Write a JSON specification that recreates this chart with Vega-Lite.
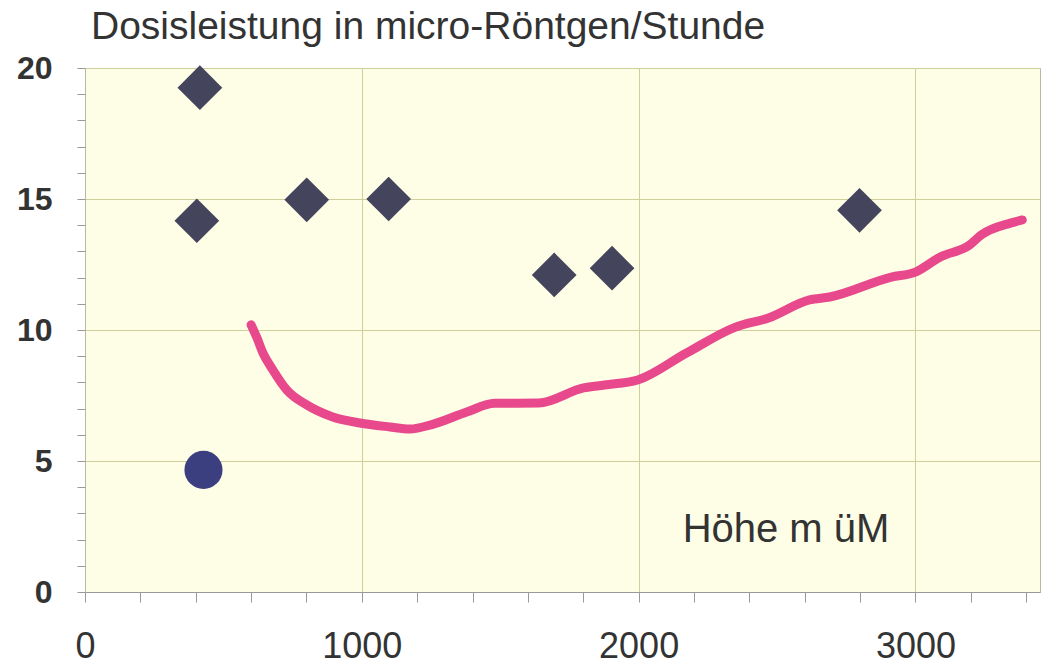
{
  "$schema": "https://vega.github.io/schema/vega-lite/v6.json",
  "width": 955,
  "height": 524,
  "autosize": {"type": "none"},
  "padding": {"left": 85, "top": 68, "right": 3, "bottom": 74},
  "background": "white",
  "config": {
    "view": {"fill": "#fefee6", "stroke": "#b8b8a8", "strokeWidth": 1},
    "font": "Liberation Sans"
  },
  "title": {
    "text": "Dosisleistung in micro-Röntgen/Stunde",
    "anchor": "start",
    "frame": "group",
    "fontSize": 39,
    "fontWeight": "normal",
    "color": "#333333",
    "font": "Liberation Sans",
    "baseline": "alphabetic",
    "offset": -26,
    "dx": 6
  },
  "datasets": {
    "curve": [
      {"x": 600, "y": 10.2}, {"x": 620, "y": 9.73}, {"x": 643, "y": 9.12}, {"x": 679, "y": 8.47},
      {"x": 729, "y": 7.71}, {"x": 801, "y": 7.14}, {"x": 895, "y": 6.68}, {"x": 993, "y": 6.45},
      {"x": 1101, "y": 6.3}, {"x": 1173, "y": 6.22}, {"x": 1256, "y": 6.4}, {"x": 1379, "y": 6.87},
      {"x": 1480, "y": 7.2}, {"x": 1639, "y": 7.21}, {"x": 1801, "y": 7.79}, {"x": 1877, "y": 7.9},
      {"x": 1996, "y": 8.09}, {"x": 2173, "y": 9.12}, {"x": 2350, "y": 10.11}, {"x": 2469, "y": 10.46},
      {"x": 2617, "y": 11.15}, {"x": 2690, "y": 11.26}, {"x": 2913, "y": 12.02}, {"x": 3000, "y": 12.21},
      {"x": 3090, "y": 12.79}, {"x": 3195, "y": 13.24}, {"x": 3238, "y": 13.63}, {"x": 3343, "y": 14.08},
      {"x": 3386, "y": 14.2}
    ],
    "diamonds": [
      {"x": 415, "y": 19.25}, {"x": 404, "y": 14.17}, {"x": 801, "y": 14.97}, {"x": 1097, "y": 15.0},
      {"x": 1695, "y": 12.1}, {"x": 1904, "y": 12.36}, {"x": 2798, "y": 14.57}
    ],
    "circles": [{"x": 428, "y": 4.66}],
    "labels": [{"x": 2159, "y": 1.9, "label": "Höhe m üM"}]
  },
  "encoding": {
    "x": {
      "field": "x",
      "type": "quantitative",
      "scale": {"domain": [0, 3450], "nice": false, "zero": false},
      "axis": {
        "title": null,
        "values": [0, 200, 400, 600, 800, 1000, 1200, 1400, 1600, 1800, 2000, 2200, 2400, 2600, 2800, 3000, 3200, 3400],
        "format": "d",
        "labelExpr": "datum.value % 1000 === 0 ? datum.label : ''",
        "labelFontSize": 36,
        "labelColor": "#333333",
        "labelFont": "Liberation Sans",
        "labelPadding": 27,
        "labelOverlap": false,
        "labelFlush": false,
        "labelBound": false,
        "tickSize": 10,
        "tickColor": "#999999",
        "domainColor": "#999999",
        "grid": true,
        "gridColor": {"condition": {"test": "datum.value % 1000 === 0 && datum.value > 0", "value": "#cfcf9c"}, "value": "transparent"},
        "gridWidth": 1
      }
    },
    "y": {
      "field": "y",
      "type": "quantitative",
      "scale": {"domain": [0, 20], "nice": false},
      "axis": {
        "title": null,
        "values": [0, 1, 2, 3, 4, 5, 6, 7, 8, 9, 10, 11, 12, 13, 14, 15, 16, 17, 18, 19, 20],
        "format": "d",
        "labelExpr": "datum.value % 5 === 0 ? datum.label : ''",
        "labelFontSize": 32,
        "labelFontWeight": "bold",
        "labelColor": "#333333",
        "labelFont": "Liberation Sans",
        "labelPadding": 25,
        "labelOverlap": false,
        "labelFlush": false,
        "labelBound": false,
        "tickSize": 8,
        "tickColor": "#999999",
        "domain": false,
        "grid": true,
        "gridColor": {"condition": {"test": "datum.value % 5 === 0 && datum.value > 0", "value": "#cfcf9c"}, "value": "transparent"},
        "gridWidth": 1
      }
    }
  },
  "layer": [
    {
      "data": {"name": "curve"},
      "mark": {"type": "line", "color": "#e8488c", "strokeWidth": 9, "strokeCap": "round", "strokeJoin": "round", "interpolate": "monotone"}
    },
    {
      "data": {"name": "diamonds"},
      "mark": {"type": "point", "shape": "diamond", "filled": true, "size": 2000, "color": "#44445c", "opacity": 1}
    },
    {
      "data": {"name": "circles"},
      "mark": {"type": "circle", "size": 1450, "color": "#3b3f80", "opacity": 1}
    },
    {
      "data": {"name": "labels"},
      "mark": {"type": "text", "align": "left", "baseline": "alphabetic", "fontSize": 40, "color": "#333333", "font": "Liberation Sans"},
      "encoding": {"text": {"field": "label"}}
    }
  ]
}
